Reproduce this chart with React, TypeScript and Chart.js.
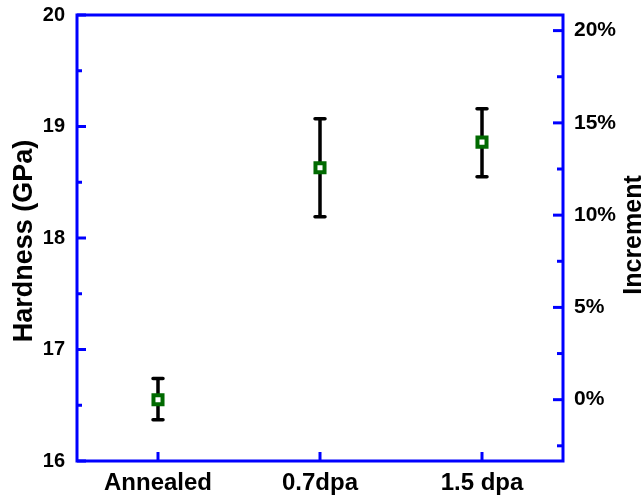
import React, { useEffect, useRef } from 'react';
import { Chart, registerables } from 'chart.js';

Chart.register(...registerables);

const categories = ['Annealed', '0.7dpa', '1.5 dpa'];
const hardness = [16.55, 18.63, 18.86];
const errLow = [16.37, 18.19, 18.55];
const errHigh = [16.74, 19.07, 19.16];
const leftTicks = [16, 17, 18, 19, 20];
const rightTicks = [0, 5, 10, 15, 20];

const FONT = '"Liberation Sans", Arial, sans-serif';
const BLUE = '#0000ff';

const framePlugin = {
  id: 'frame',
  beforeDatasetsDraw(chart: any) {
    const ctx = chart.ctx;
    const x = chart.scales.x;
    const y = chart.scales.y;
    ctx.save();
    ctx.strokeStyle = '#000';
    ctx.lineWidth = 3.5;
    ctx.lineCap = 'round';
    categories.forEach((_, i) => {
      const px = x.getPixelForValue(i);
      const yl = y.getPixelForValue(errLow[i]);
      const yh = y.getPixelForValue(errHigh[i]);
      ctx.beginPath();
      ctx.moveTo(px, yl);
      ctx.lineTo(px, yh);
      ctx.moveTo(px - 5, yl);
      ctx.lineTo(px + 5, yl);
      ctx.moveTo(px - 5, yh);
      ctx.lineTo(px + 5, yh);
      ctx.stroke();
    });
    ctx.restore();
  },
  afterDraw(chart: any) {
    const ctx = chart.ctx;
    const { left, right, top, bottom } = chart.chartArea;
    const x = chart.scales.x;
    const y = chart.scales.y;
    const y2 = chart.scales.y2;
    ctx.save();
    ctx.strokeStyle = BLUE;
    ctx.lineWidth = 3;
    ctx.lineCap = 'butt';
    ctx.beginPath();
    ctx.rect(left, top, right - left, bottom - top);
    ctx.stroke();
    for (let v = y.min; v <= y.max + 1e-9; v += 0.5) {
      const py = y.getPixelForValue(v);
      const major = Math.abs(v - Math.round(v)) < 1e-6;
      ctx.beginPath();
      ctx.moveTo(left, py);
      ctx.lineTo(left + (major ? 9 : 5), py);
      ctx.stroke();
    }
    for (let v = -2.5; v <= y2.max + 1e-9; v += 2.5) {
      if (v < y2.min) continue;
      const py = y2.getPixelForValue(v);
      const major = Math.abs(v / 5 - Math.round(v / 5)) < 1e-6;
      ctx.beginPath();
      ctx.moveTo(right, py);
      ctx.lineTo(right - (major ? 10 : 6), py);
      ctx.stroke();
    }
    categories.forEach((_, i) => {
      const px = x.getPixelForValue(i);
      ctx.beginPath();
      ctx.moveTo(px, bottom);
      ctx.lineTo(px, bottom - 9);
      ctx.stroke();
    });
    ctx.fillStyle = '#000';
    ctx.textAlign = 'center';
    ctx.textBaseline = 'alphabetic';
    ctx.font = `bold 27px ${FONT}`;
    ctx.save();
    ctx.translate(32, 241);
    ctx.rotate(-Math.PI / 2);
    ctx.fillText('Hardness (GPa)', 0, 0);
    ctx.restore();
    ctx.font = `bold 25px ${FONT}`;
    ctx.save();
    ctx.translate(641, 235);
    ctx.rotate(-Math.PI / 2);
    ctx.fillText('Increment', 0, 0);
    ctx.restore();
    ctx.restore();
  },
};

export default function App() {
  const ref = useRef<HTMLCanvasElement | null>(null);
  useEffect(() => {
    if (!ref.current) return;
    const base = hardness[0];
    const yMin = leftTicks[0];
    const yMax = leftTicks[leftTicks.length - 1];
    const chart = new Chart(ref.current, {
      type: 'line',
      data: {
        labels: categories,
        datasets: [
          {
            data: hardness,
            showLine: false,
            pointStyle: 'rect',
            pointRadius: 6.4,
            pointHoverRadius: 6.4,
            pointBorderWidth: 4,
            pointBorderColor: '#006a00',
            pointBackgroundColor: '#ffffff',
            yAxisID: 'y',
          },
        ],
      },
      options: {
        responsive: false,
        animation: false,
        layout: { padding: { top: 15, left: 0, right: 0, bottom: 0 } },
        plugins: { legend: { display: false }, tooltip: { enabled: false } },
        scales: {
          x: {
            type: 'category',
            offset: true,
            grid: { display: false, drawTicks: false },
            border: { display: false },
            ticks: {
              color: '#000',
              padding: 8,
              font: { family: FONT, size: 24, weight: 'bold' },
            },
            afterFit: (s: any) => {
              s.height = 37;
              s.paddingLeft = 0;
              s.paddingRight = 0;
            },
          },
          y: {
            position: 'left',
            min: yMin,
            max: yMax,
            grid: { display: false, drawTicks: false },
            border: { display: false },
            afterBuildTicks: (s: any) => {
              s.ticks = leftTicks.map((v) => ({ value: v }));
            },
            ticks: {
              color: '#000',
              padding: 12,
              font: { family: FONT, size: 20, weight: 'bold' },
            },
            afterFit: (s: any) => {
              s.width = 77;
              s.paddingTop = 0;
              s.paddingBottom = 0;
            },
          },
          y2: {
            position: 'right',
            min: ((yMin - base) / base) * 100,
            max: ((yMax - base) / base) * 100,
            grid: { display: false, drawTicks: false },
            border: { display: false },
            afterBuildTicks: (s: any) => {
              s.ticks = rightTicks.map((v) => ({ value: v }));
            },
            ticks: {
              color: '#000',
              padding: 11,
              font: { family: FONT, size: 21, weight: 'bold' },
              callback: (v: any) => `${v}%`,
            },
            afterFit: (s: any) => {
              s.width = 80;
              s.paddingTop = 0;
              s.paddingBottom = 0;
            },
          },
        },
      },
      plugins: [framePlugin],
    });
    return () => chart.destroy();
  }, []);
  return (
    <div style={{ position: 'absolute', left: 0, top: 0, width: 643, height: 498, background: '#fff' }}>
      <canvas ref={ref} width={643} height={498} style={{ display: 'block' }} />
    </div>
  );
}
